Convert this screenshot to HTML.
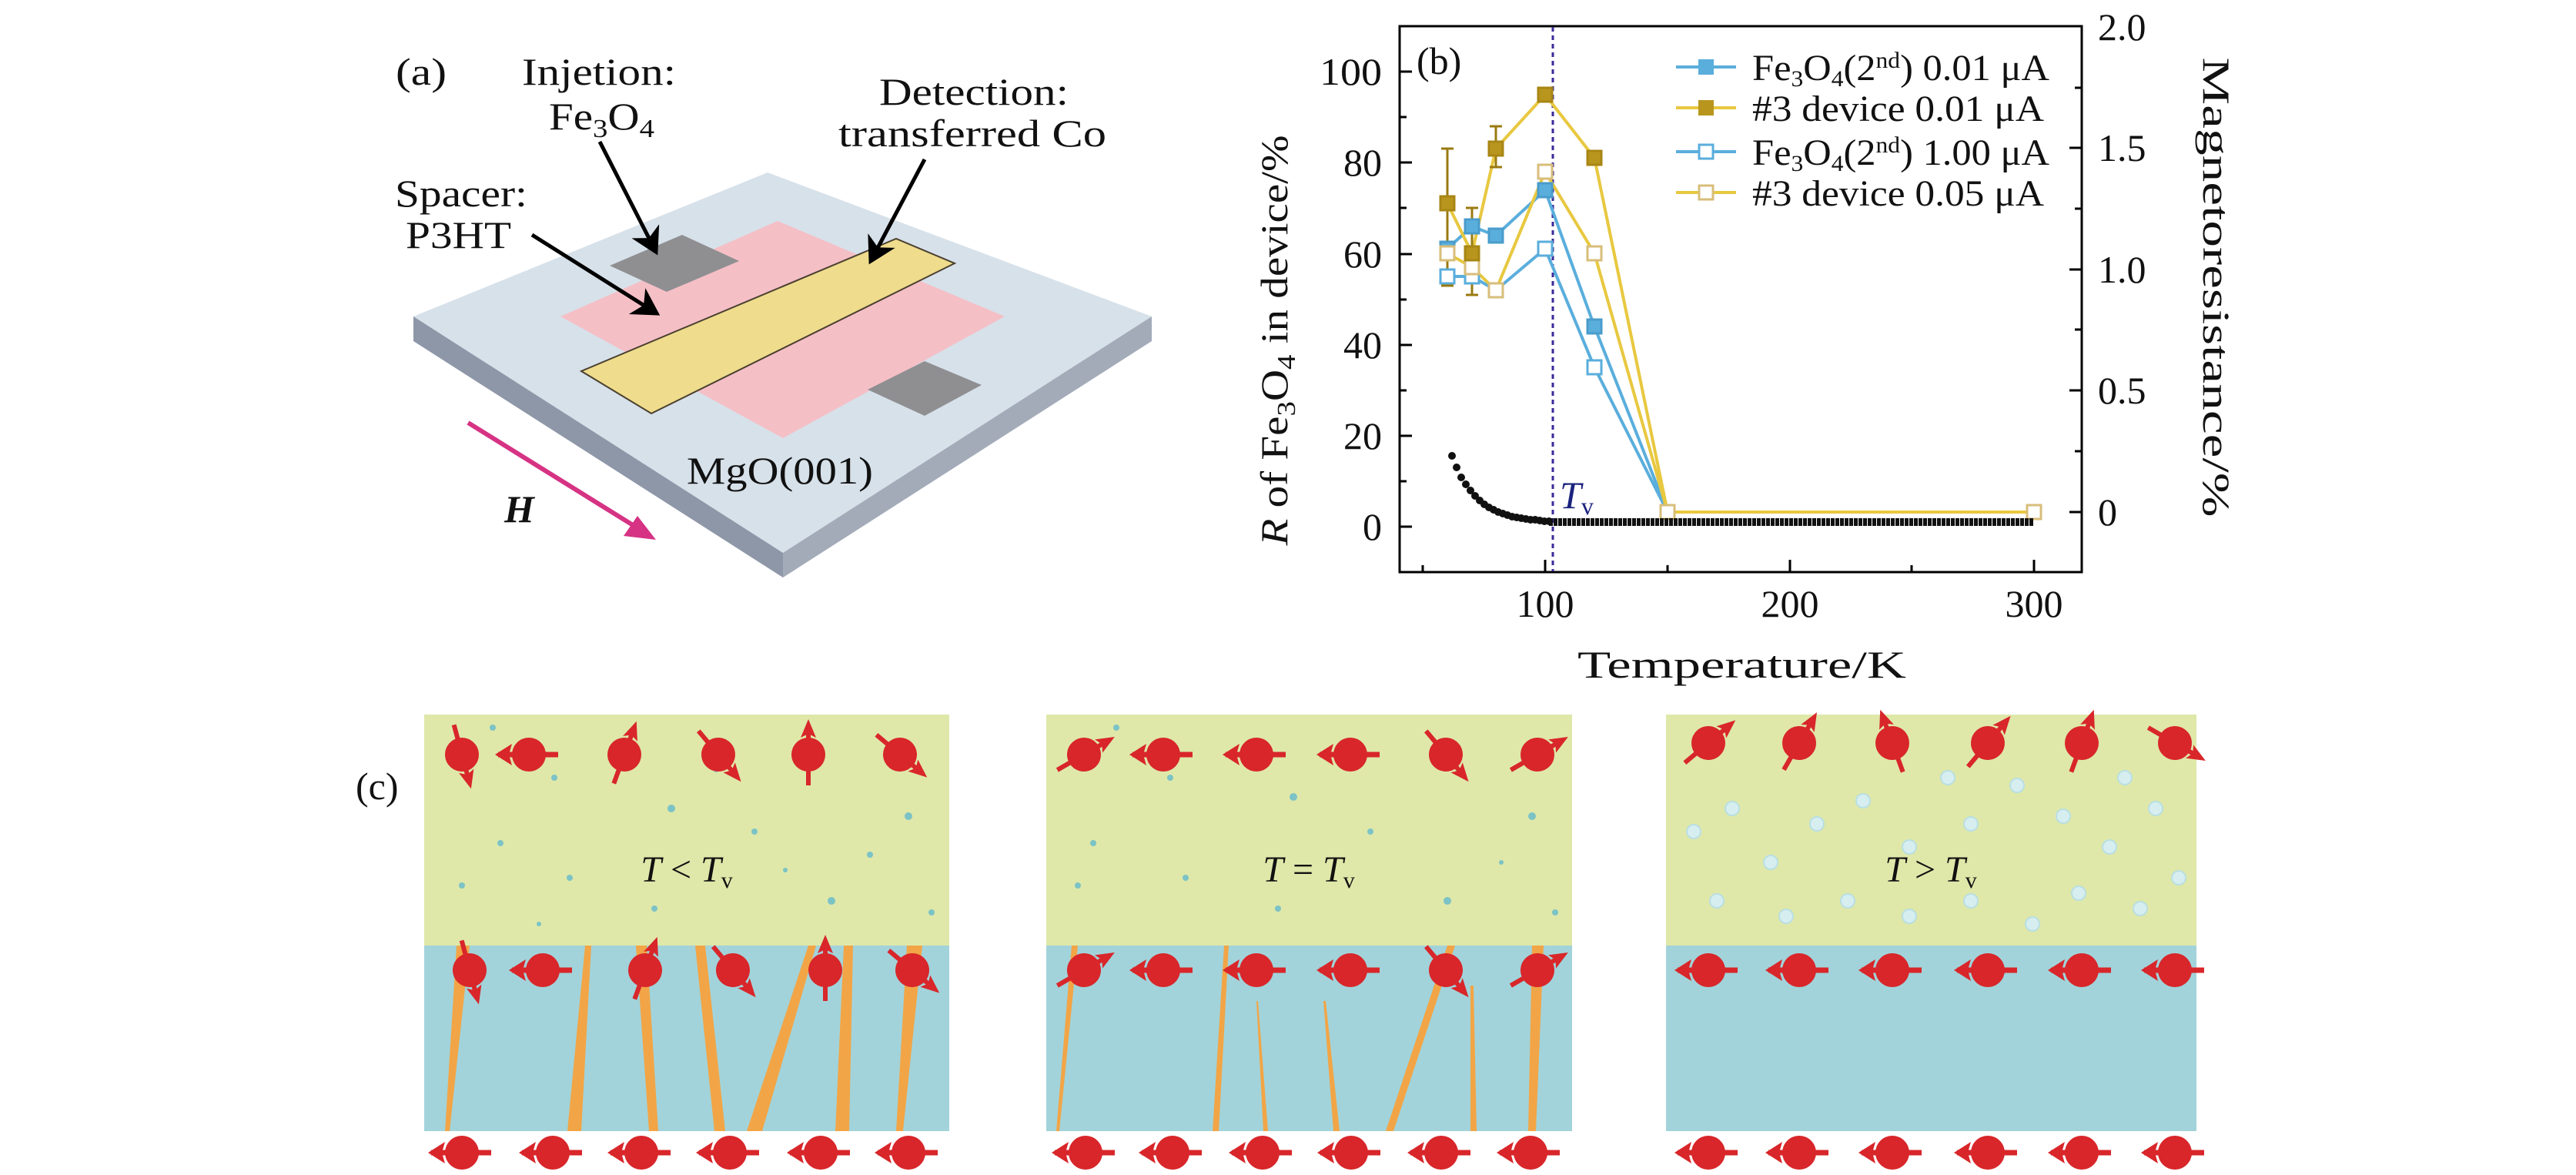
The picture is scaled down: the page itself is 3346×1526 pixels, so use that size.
<!DOCTYPE html>
<html><head><meta charset="utf-8"><style>
body{margin:0;background:#fff}
svg{display:block}
svg text{font-family:"Liberation Serif","DejaVu Serif","Times New Roman",serif;fill:#111}
</style></head><body>
<svg width="3346" height="1526" viewBox="0 0 3346 1526" xmlns="http://www.w3.org/2000/svg">
<defs>
<marker id="ah" markerWidth="8" markerHeight="8" refX="6" refY="4" orient="auto" markerUnits="strokeWidth"><path d="M0,0 L7,4 L0,8 L2,4 Z" fill="#000"/></marker>
<g id="spinL"><line x1="-40" y1="0" x2="38" y2="0" stroke="#d8262a" stroke-width="7"/><path d="M-44,0 L-22,-14 L-26,0 L-22,14 Z" fill="#d8262a"/><circle r="22" fill="#d8262a"/></g>
<g id="spinR"><line x1="0" y1="-40" x2="0" y2="38" stroke="#d8262a" stroke-width="6"/><path d="M0,46 L-10,22 L0,27 L10,22 Z" fill="#d8262a"/><circle r="22" fill="#d8262a"/></g>
</defs>

<!-- (a) -->
<text x="514" y="110" font-size="50" textLength="66" lengthAdjust="spacingAndGlyphs">(a)</text>
<polygon points="537,411 997,224 1496,411 1017,718" fill="#d7e1ea"/>
<polygon points="537,411 1017,718 1017,750 537,443" fill="#8e97a8"/>
<polygon points="1017,718 1496,411 1496,443 1017,750" fill="#a3abb9"/>
<polygon points="728,411 1010,287 1305,411 1017,569" fill="#f5bfc6"/>
<polygon points="792,345 886,305 960,339 866,379" fill="#8f8f92"/>
<polygon points="1127,506 1201,469 1275,500 1201,540" fill="#8f8f92"/>
<polygon points="755,482 1164,310 1240,342 846,537" fill="#efdc8c" stroke="#4a4030" stroke-width="2"/>
<line x1="779" y1="184" x2="852" y2="327" stroke="#000" stroke-width="5" marker-end="url(#ah)"/>
<line x1="1201" y1="207" x2="1131" y2="339" stroke="#000" stroke-width="5" marker-end="url(#ah)"/>
<line x1="691" y1="305" x2="853" y2="407" stroke="#000" stroke-width="5" marker-end="url(#ah)"/>
<line x1="608" y1="549" x2="835" y2="690" stroke="#d63384" stroke-width="6"/>
<polygon points="852,701 810,696 828,670" fill="#d63384"/>
<text x="678" y="110" font-size="50" textLength="200" lengthAdjust="spacingAndGlyphs">Injetion:</text>
<text x="713" y="168" font-size="50" textLength="137" lengthAdjust="spacingAndGlyphs">Fe<tspan font-size="34" dy="10">3</tspan><tspan dy="-10">O</tspan><tspan font-size="34" dy="10">4</tspan></text>
<text x="1142" y="136" font-size="50" textLength="246" lengthAdjust="spacingAndGlyphs">Detection:</text>
<text x="1089" y="190" font-size="50" textLength="348" lengthAdjust="spacingAndGlyphs">transferred Co</text>
<text x="513" y="268" font-size="50" textLength="172" lengthAdjust="spacingAndGlyphs">Spacer:</text>
<text x="527" y="322" font-size="50" textLength="137" lengthAdjust="spacingAndGlyphs">P3HT</text>
<text x="892" y="628" font-size="50" textLength="242" lengthAdjust="spacingAndGlyphs">MgO(001)</text>
<text x="655" y="678" font-size="50" font-weight="bold" font-style="italic">H</text>

<!-- (b) -->
<g font-size="50">
<rect x="1818" y="34" width="886" height="709" fill="none" stroke="#000" stroke-width="3"/>
<g stroke="#000" stroke-width="3">
<line x1="2007" y1="743" x2="2007" y2="727"/><line x1="2325" y1="743" x2="2325" y2="727"/><line x1="2642" y1="743" x2="2642" y2="727"/>
<line x1="1848" y1="743" x2="1848" y2="734"/><line x1="2166" y1="743" x2="2166" y2="734"/><line x1="2483" y1="743" x2="2483" y2="734"/>
<line x1="1818" y1="684" x2="1834" y2="684"/><line x1="1818" y1="566" x2="1834" y2="566"/><line x1="1818" y1="448" x2="1834" y2="448"/><line x1="1818" y1="330" x2="1834" y2="330"/><line x1="1818" y1="211" x2="1834" y2="211"/><line x1="1818" y1="93" x2="1834" y2="93"/>
<line x1="1818" y1="625" x2="1827" y2="625"/><line x1="1818" y1="507" x2="1827" y2="507"/><line x1="1818" y1="389" x2="1827" y2="389"/><line x1="1818" y1="270" x2="1827" y2="270"/><line x1="1818" y1="152" x2="1827" y2="152"/>
<line x1="2704" y1="665" x2="2688" y2="665"/><line x1="2704" y1="507" x2="2688" y2="507"/><line x1="2704" y1="350" x2="2688" y2="350"/><line x1="2704" y1="192" x2="2688" y2="192"/>
<line x1="2704" y1="586" x2="2695" y2="586"/><line x1="2704" y1="428" x2="2695" y2="428"/><line x1="2704" y1="271" x2="2695" y2="271"/><line x1="2704" y1="114" x2="2695" y2="114"/>
</g>
<g text-anchor="end">
<text x="1795" y="701">0</text><text x="1795" y="583">20</text><text x="1795" y="465">40</text><text x="1795" y="347">60</text><text x="1795" y="228">80</text><text x="1795" y="110" textLength="81" lengthAdjust="spacingAndGlyphs">100</text>
</g>
<g text-anchor="start">
<text x="2725" y="682">0</text><text x="2725" y="524">0.5</text><text x="2725" y="367">1.0</text><text x="2725" y="209">1.5</text><text x="2725" y="52">2.0</text>
</g>
<g text-anchor="middle">
<text x="2007" y="801">100</text><text x="2325" y="801">200</text><text x="2642" y="801">300</text>
</g>
<text x="2049" y="880" textLength="427" lengthAdjust="spacingAndGlyphs">Temperature/K</text>
<text transform="translate(1672,442) rotate(-90)" text-anchor="middle" textLength="533" lengthAdjust="spacingAndGlyphs"><tspan font-style="italic">R</tspan> of Fe<tspan font-size="34" dy="10">3</tspan><tspan dy="-10">O</tspan><tspan font-size="34" dy="10">4</tspan><tspan dy="-10"> in device/%</tspan></text>
<text transform="translate(2862,373) rotate(90)" text-anchor="middle" textLength="597" lengthAdjust="spacingAndGlyphs">Magnetoresistance/%</text>
<text x="1840" y="96">(b)</text>
</g>
<line x1="2017" y1="35" x2="2017" y2="742" stroke="#3a2a9a" stroke-width="3" stroke-dasharray="6,5"/>
<text x="2026" y="660" font-size="50" font-style="italic" style="fill:#1a237e">T<tspan font-size="32" font-style="normal" dy="8">v</tspan></text>
<g fill="none" stroke-width="4">
<polyline points="1880,323 1912,294 1943,306 2007,247 2071,424 2166,665" stroke="#5aaedc"/>
<polyline points="1880,359 1912,359 1943,377 2007,323 2071,477 2166,665" stroke="#5aaedc"/>
<polyline points="1880,264 1912,329 1943,193 2007,123 2071,205 2166,665 2642,665" stroke="#e8c840"/>
<polyline points="1880,329 1912,347 1943,377 2007,223 2071,329 2166,665 2642,665" stroke="#e8c840"/>
</g>
<g stroke="#9a7a10" stroke-width="3">
<line x1="1880" y1="193" x2="1880" y2="371"/><line x1="1872" y1="193" x2="1888" y2="193"/><line x1="1872" y1="371" x2="1888" y2="371"/>
<line x1="1912" y1="270" x2="1912" y2="383"/><line x1="1904" y1="270" x2="1920" y2="270"/><line x1="1904" y1="383" x2="1920" y2="383"/>
<line x1="1943" y1="164" x2="1943" y2="217"/><line x1="1935" y1="164" x2="1951" y2="164"/><line x1="1935" y1="217" x2="1951" y2="217"/>
</g>
<g stroke-width="3">
<g fill="#5aaedc" stroke="#4a9ccb"><rect x="1871" y="314" width="18" height="18"/><rect x="1903" y="285" width="18" height="18"/><rect x="1934" y="297" width="18" height="18"/><rect x="1998" y="238" width="18" height="18"/><rect x="2062" y="415" width="18" height="18"/></g>
<g fill="#fff" stroke="#5aaedc"><rect x="1871" y="350" width="18" height="18"/><rect x="1903" y="350" width="18" height="18"/><rect x="1998" y="314" width="18" height="18"/><rect x="2062" y="468" width="18" height="18"/></g>
<g fill="#fff" stroke="#d8be7a"><rect x="1871" y="320" width="18" height="18"/><rect x="1903" y="338" width="18" height="18"/><rect x="1934" y="368" width="18" height="18"/><rect x="1998" y="214" width="18" height="18"/><rect x="2062" y="320" width="18" height="18"/><rect x="2157" y="656" width="18" height="18"/><rect x="2633" y="656" width="18" height="18"/></g>
<g fill="#b8961e" stroke="#a88614"><rect x="1871" y="255" width="18" height="18"/><rect x="1903" y="320" width="18" height="18"/><rect x="1934" y="184" width="18" height="18"/><rect x="1998" y="114" width="18" height="18"/><rect x="2062" y="196" width="18" height="18"/></g>
</g>
<g stroke-width="4">
<line x1="2177" y1="87" x2="2255" y2="87" stroke="#5aaedc"/><rect x="2206" y="77" width="20" height="20" fill="#5aaedc"/>
<line x1="2177" y1="140" x2="2255" y2="140" stroke="#e8c840"/><rect x="2206" y="130" width="20" height="20" fill="#b8961e"/>
<line x1="2177" y1="197" x2="2255" y2="197" stroke="#5aaedc"/><rect x="2207" y="188" width="18" height="18" fill="#fff" stroke="#5aaedc" stroke-width="3"/>
<line x1="2177" y1="250" x2="2255" y2="250" stroke="#e8c840"/><rect x="2207" y="241" width="18" height="18" fill="#fff" stroke="#d8be7a" stroke-width="3"/>
</g>
<g font-size="48">
<text x="2276" y="104" textLength="386" lengthAdjust="spacingAndGlyphs">Fe<tspan font-size="30" dy="8">3</tspan><tspan dy="-8">O</tspan><tspan font-size="30" dy="8">4</tspan><tspan dy="-8">(2</tspan><tspan font-size="30" dy="-16">nd</tspan><tspan dy="16">) 0.01 μA</tspan></text>
<text x="2276" y="157" textLength="379" lengthAdjust="spacingAndGlyphs">#3 device 0.01 μA</text>
<text x="2276" y="214" textLength="386" lengthAdjust="spacingAndGlyphs">Fe<tspan font-size="30" dy="8">3</tspan><tspan dy="-8">O</tspan><tspan font-size="30" dy="8">4</tspan><tspan dy="-8">(2</tspan><tspan font-size="30" dy="-16">nd</tspan><tspan dy="16">) 1.00 μA</tspan></text>
<text x="2276" y="267" textLength="379" lengthAdjust="spacingAndGlyphs">#3 device 0.05 μA</text>
</g>
<g fill="#111">
<circle cx="1886" cy="592" r="5"/><circle cx="1892" cy="607" r="5"/><circle cx="1898" cy="620" r="5"/><circle cx="1904" cy="629" r="5"/><circle cx="1910" cy="637" r="5"/><circle cx="1916" cy="644" r="5"/><circle cx="1922" cy="650" r="5"/><circle cx="1928" cy="655" r="5"/><circle cx="1934" cy="659" r="5"/><circle cx="1940" cy="662" r="5"/><circle cx="1946" cy="665" r="5"/><circle cx="1952" cy="667" r="5"/><circle cx="1958" cy="669" r="5"/><circle cx="1964" cy="671" r="5"/><circle cx="1970" cy="672" r="5"/><circle cx="1976" cy="673" r="5"/><circle cx="1982" cy="674" r="5"/><circle cx="1988" cy="675" r="5"/><circle cx="1994" cy="675" r="5"/><circle cx="2000" cy="676" r="5"/><circle cx="2006" cy="677" r="5"/><circle cx="2012" cy="677" r="5"/>
</g>
<line x1="2012" y1="678" x2="2642" y2="678" stroke="#111" stroke-width="10" stroke-dasharray="5,1"/>

<!-- (c) -->
<text x="462" y="1038" font-size="50">(c)</text>
<rect x="551" y="928" width="682" height="300" fill="#dfe8a9"/>
<rect x="551" y="1228" width="682" height="241" fill="#a2d3da"/>
<g fill="#f2a546">
<polygon points="593,1228 610,1228 584,1469 578,1469"/><polygon points="760,1228 768,1228 755,1469 737,1469"/><polygon points="826,1228 840,1228 855,1469 843,1469"/><polygon points="903,1228 916,1228 942,1469 928,1469"/><polygon points="1050,1228 1060,1228 990,1469 970,1469"/><polygon points="1096,1228 1108,1228 1103,1469 1085,1469"/><polygon points="1178,1228 1198,1228 1173,1469 1164,1469"/>
</g>
<g fill="#7cc3c6"><circle cx="640" cy="945" r="4"/><circle cx="720" cy="1010" r="4"/><circle cx="872" cy="1050" r="5"/><circle cx="650" cy="1095" r="4"/><circle cx="980" cy="1080" r="4"/><circle cx="1180" cy="1060" r="5"/><circle cx="600" cy="1150" r="4"/><circle cx="850" cy="1180" r="4"/><circle cx="1080" cy="1170" r="5"/><circle cx="1210" cy="1185" r="4"/><circle cx="740" cy="1140" r="4"/><circle cx="1020" cy="1130" r="3"/><circle cx="700" cy="1200" r="3"/><circle cx="930" cy="1000" r="3"/><circle cx="1130" cy="1110" r="4"/></g>
<text x="892" y="1145" font-size="48" text-anchor="middle"><tspan font-style="italic">T</tspan> &lt; <tspan font-style="italic">T</tspan><tspan font-size="30" dy="8">v</tspan></text>
<use href="#spinR" transform="translate(600,980) rotate(-15)"/><use href="#spinL" x="687" y="980"/><use href="#spinR" transform="translate(811,980) rotate(200)"/><use href="#spinR" transform="translate(933,980) rotate(-40)"/><use href="#spinR" transform="translate(1050,980) rotate(180)"/><use href="#spinR" transform="translate(1169,980) rotate(-50)"/>
<use href="#spinR" transform="translate(610,1260) rotate(-15)"/><use href="#spinL" x="705" y="1260"/><use href="#spinR" transform="translate(838,1260) rotate(200)"/><use href="#spinR" transform="translate(952,1260) rotate(-40)"/><use href="#spinR" transform="translate(1072,1260) rotate(180)"/><use href="#spinR" transform="translate(1185,1260) rotate(-50)"/>
<rect x="1359" y="928" width="683" height="300" fill="#dfe8a9"/>
<rect x="1359" y="1228" width="683" height="241" fill="#a2d3da"/>
<g fill="#f2a546">
<polygon points="1392,1228 1400,1228 1376,1469 1372,1469"/><polygon points="1590,1228 1596,1228 1583,1469 1575,1469"/><polygon points="1632,1300 1634,1300 1647,1469 1641,1469"/><polygon points="1719,1300 1722,1300 1740,1469 1732,1469"/><polygon points="1880,1228 1890,1228 1810,1469 1800,1469"/><polygon points="1910,1280 1914,1280 1918,1469 1910,1469"/><polygon points="1990,1228 2005,1228 1995,1469 1985,1469"/>
</g>
<g fill="#7cc3c6"><circle cx="1450" cy="945" r="4"/><circle cx="1520" cy="1010" r="4"/><circle cx="1680" cy="1035" r="5"/><circle cx="1420" cy="1095" r="4"/><circle cx="1780" cy="1080" r="4"/><circle cx="1990" cy="1060" r="5"/><circle cx="1400" cy="1150" r="4"/><circle cx="1660" cy="1180" r="4"/><circle cx="1880" cy="1170" r="5"/><circle cx="2020" cy="1185" r="4"/><circle cx="1540" cy="1140" r="4"/><circle cx="1950" cy="1120" r="3"/></g>
<text x="1700" y="1145" font-size="48" text-anchor="middle"><tspan font-style="italic">T</tspan> = <tspan font-style="italic">T</tspan><tspan font-size="30" dy="8">v</tspan></text>
<use href="#spinR" transform="translate(1408,980) rotate(-120)"/><use href="#spinL" x="1511" y="980"/><use href="#spinL" x="1632" y="980"/><use href="#spinL" x="1754" y="980"/><use href="#spinR" transform="translate(1878,980) rotate(-40)"/><use href="#spinR" transform="translate(1997,980) rotate(-120)"/>
<use href="#spinR" transform="translate(1408,1260) rotate(-120)"/><use href="#spinL" x="1511" y="1260"/><use href="#spinL" x="1632" y="1260"/><use href="#spinL" x="1754" y="1260"/><use href="#spinR" transform="translate(1878,1260) rotate(-40)"/><use href="#spinR" transform="translate(1997,1260) rotate(-120)"/>
<rect x="2164" y="928" width="689" height="300" fill="#dfe8a9"/>
<rect x="2164" y="1228" width="689" height="241" fill="#a2d3da"/>
<g fill="#d7eef0" stroke="#b9dfe3" stroke-width="2"><circle cx="2200" cy="1080" r="9"/><circle cx="2250" cy="1050" r="9"/><circle cx="2300" cy="1120" r="9"/><circle cx="2360" cy="1070" r="9"/><circle cx="2420" cy="1040" r="9"/><circle cx="2480" cy="1100" r="9"/><circle cx="2560" cy="1070" r="9"/><circle cx="2620" cy="1020" r="9"/><circle cx="2680" cy="1060" r="9"/><circle cx="2740" cy="1100" r="9"/><circle cx="2800" cy="1050" r="9"/><circle cx="2830" cy="1140" r="9"/><circle cx="2780" cy="1180" r="9"/><circle cx="2700" cy="1160" r="9"/><circle cx="2640" cy="1200" r="9"/><circle cx="2560" cy="1170" r="9"/><circle cx="2480" cy="1190" r="9"/><circle cx="2400" cy="1170" r="9"/><circle cx="2320" cy="1190" r="9"/><circle cx="2230" cy="1170" r="9"/><circle cx="2530" cy="1010" r="9"/><circle cx="2760" cy="1010" r="9"/></g>
<text x="2508" y="1145" font-size="48" text-anchor="middle"><tspan font-style="italic">T</tspan> &gt; <tspan font-style="italic">T</tspan><tspan font-size="30" dy="8">v</tspan></text>
<use href="#spinR" transform="translate(2219,965) rotate(-130)"/><use href="#spinR" transform="translate(2337,965) rotate(-150)"/><use href="#spinR" transform="translate(2458,965) rotate(160)"/><use href="#spinR" transform="translate(2582,965) rotate(-140)"/><use href="#spinR" transform="translate(2704,965) rotate(-160)"/><use href="#spinR" transform="translate(2825,965) rotate(-60)"/>
<use href="#spinL" x="2219" y="1260"/><use href="#spinL" x="2337" y="1260"/><use href="#spinL" x="2458" y="1260"/><use href="#spinL" x="2582" y="1260"/><use href="#spinL" x="2704" y="1260"/><use href="#spinL" x="2825" y="1260"/>
<use href="#spinL" x="600" y="1497"/><use href="#spinL" x="718" y="1497"/><use href="#spinL" x="833" y="1497"/><use href="#spinL" x="948" y="1497"/><use href="#spinL" x="1066" y="1497"/><use href="#spinL" x="1180" y="1497"/>
<use href="#spinL" x="1410" y="1497"/><use href="#spinL" x="1523" y="1497"/><use href="#spinL" x="1640" y="1497"/><use href="#spinL" x="1755" y="1497"/><use href="#spinL" x="1872" y="1497"/><use href="#spinL" x="1988" y="1497"/>
<use href="#spinL" x="2219" y="1497"/><use href="#spinL" x="2337" y="1497"/><use href="#spinL" x="2458" y="1497"/><use href="#spinL" x="2582" y="1497"/><use href="#spinL" x="2704" y="1497"/><use href="#spinL" x="2825" y="1497"/>
</svg>
</body></html>
